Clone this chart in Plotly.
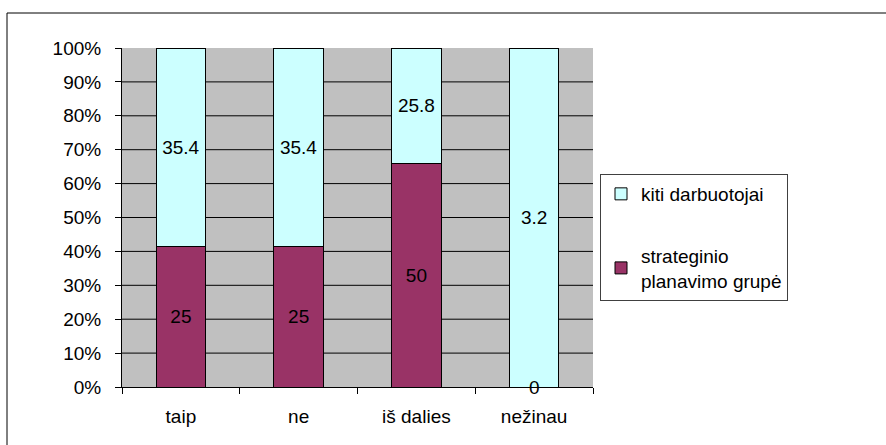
import plotly.graph_objects as go

# Survey answers and the two respondent groups
categories = ["taip", "ne", "iš dalies", "nežinau"]
strateginio = [25, 25, 50, 0]
kiti = [35.4, 35.4, 25.8, 3.2]
series_names = ["strateginio<br>planavimo grupė", "kiti darbuotojai"]
tick_values = [0, 10, 20, 30, 40, 50, 60, 70, 80, 90, 100]
tick_labels = [f"{v}%" for v in tick_values]

FONT = "Liberation Sans, Arial, sans-serif"
FS = 19
W, H = 886, 445
L, R, T, B = 122, 293, 48, 58
plot_w = W - L - R
plot_h = H - T - B


def px_x(px):
    return (px - L) / plot_w


def px_y(py):
    return (H - B - py) / plot_h


fig = go.Figure()
colors = ["#993366", "#CCFFFF"]
for name, vals, col, grp, rank in zip(series_names, [strateginio, kiti], colors,
                                      ["a", "b"], [2, 1]):
    fig.add_trace(go.Bar(
        x=categories, y=vals, name=name,
        marker=dict(color=col, line=dict(color="#000000", width=1)),
        text=[f"{v:g}" if v else "" for v in vals],
        textposition="inside", insidetextanchor="middle",
        textfont=dict(color="#000000", size=FS, family=FONT),
        legendgroup=grp, legendrank=rank,
    ))

# zero-height segments still carry their label at the segment base
totals = [a + b for a, b in zip(strateginio, kiti)]
annotations = []
for i, cat in enumerate(categories):
    base = 0.0
    for vals in [strateginio, kiti]:
        share = vals[i] / totals[i] * 100
        if vals[i] == 0:
            annotations.append(dict(x=cat, y=base, text=f"{vals[i]:g}", showarrow=False,
                                    xref="x", yref="y", yanchor="middle",
                                    font=dict(size=FS, color="#000000", family=FONT)))
        base += share

# horizontal gridlines inside the plot area (none along the top edge)
shapes = [dict(type="line", xref="paper", yref="y", x0=0, x1=1, y0=v, y1=v,
               line=dict(color="#000000", width=1), layer="below")
          for v in tick_values[1:-1]]
# outer chart frame
shapes.append(dict(type="rect", xref="paper", yref="paper",
                   x0=px_x(7), x1=px_x(895), y0=px_y(460), y1=px_y(13),
                   line=dict(color="#000000", width=1), fillcolor="rgba(0,0,0,0)"))

fig.update_layout(
    width=W, height=H,
    margin=dict(l=L, r=R, t=T, b=B, pad=0),
    barmode="stack", barnorm="percent", bargap=0.58,
    plot_bgcolor="#C0C0C0", paper_bgcolor="#FFFFFF",
    font=dict(family=FONT, size=FS, color="#000000"),
    showlegend=True,
    legend=dict(
        x=px_x(600), y=px_y(174), xanchor="left", yanchor="top",
        bgcolor="#FFFFFF", bordercolor="#404040", borderwidth=1,
        traceorder="grouped", tracegroupgap=34,
        font=dict(size=FS, family=FONT, color="#000000"),
        itemwidth=30,
    ),
    annotations=annotations,
    shapes=shapes,
)
fig.update_xaxes(
    showline=True, linecolor="#000000", linewidth=1,
    ticks="outside", tickson="boundaries", ticklen=6, tickcolor="#000000",
    showgrid=False, tickfont=dict(size=FS, family=FONT), ticklabelstandoff=12,
)
fig.update_yaxes(
    range=[0, 100], tickvals=tick_values, ticktext=tick_labels,
    showline=True, linecolor="#000000", linewidth=1,
    ticks="outside", ticklen=6, tickcolor="#000000",
    showgrid=False, zeroline=False,
    tickfont=dict(size=FS, family=FONT), ticklabelstandoff=10,
)

fig.write_html("out.html")
